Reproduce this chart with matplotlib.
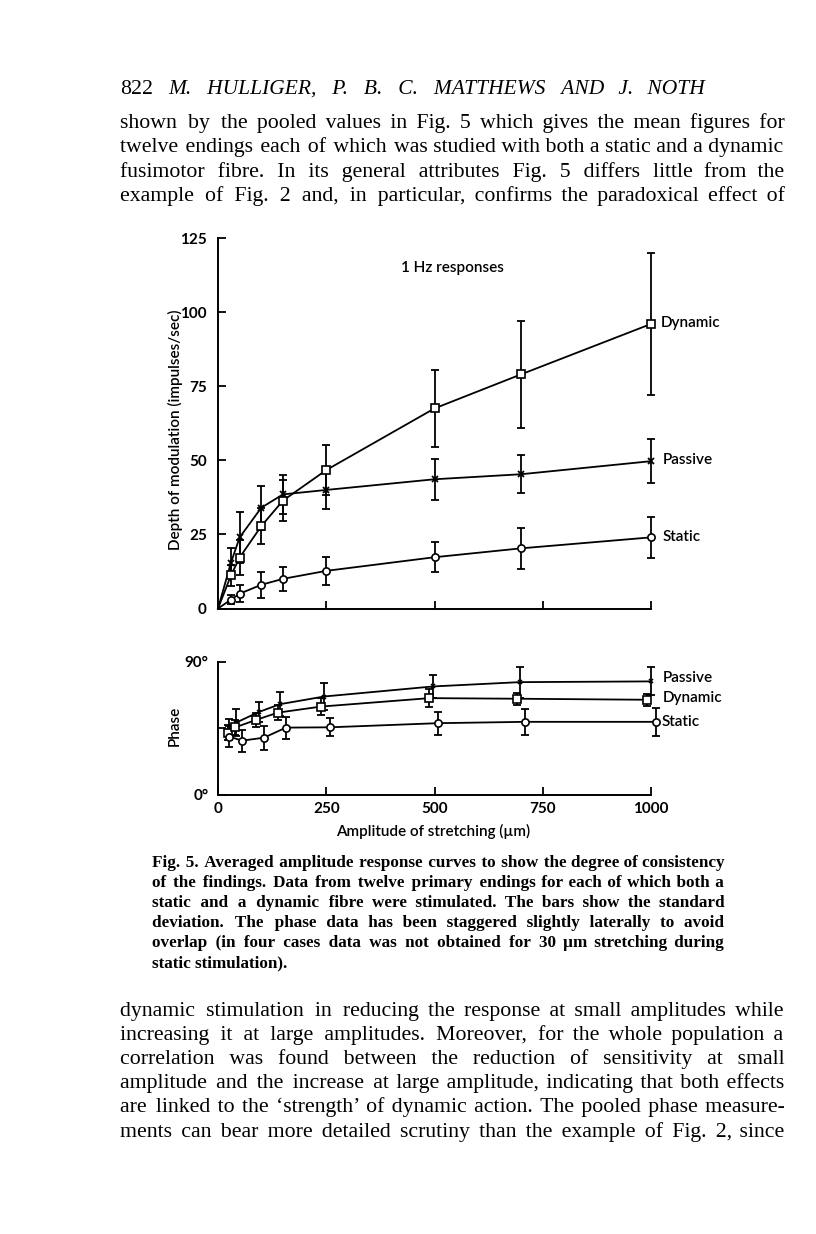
import matplotlib
matplotlib.use("Agg")
from matplotlib import pyplot as plt
from matplotlib import font_manager, ft2font

W, H = 816, 1234

# amplitude of stretching (um) and depth of modulation (impulses/sec), mean and s.d.
amp = [30, 50, 100, 150, 250, 500, 700, 1000]
dyn = [11.2, 17.2, 27.8, 36.4, 46.7, 67.5, 79.0, 96.0]
dyn_sd = [3.5, 6.0, 6.0, 7.0, 8.3, 13.0, 18.0, 24.0]
pas = [15.5, 24.0, 34.0, 38.5, 40.0, 43.6, 45.3, 49.7]
pas_sd = [5.0, 8.6, 7.4, 6.5, 6.5, 7.0, 6.5, 7.5]
sta = [3.0, 5.0, 8.0, 10.0, 12.7, 17.3, 20.3, 24.0]
sta_sd = [1.5, 2.8, 4.3, 4.0, 4.7, 5.0, 7.0, 7.0]

# phase (deg), staggered amplitudes
pas_x = [26, 42, 94, 143, 245, 497, 697, 1000]
pas_ph = [44.0, 48.9, 56.0, 61.3, 66.5, 73.3, 76.2, 76.7]
pas_ph_sd = [7.0, 9.0, 7.0, 8.0, 9.0, 8.0, 10.5, 9.5]
dyn_x = [24, 39, 88, 138, 238, 488, 690, 991]
dyn_ph = [42.0, 45.6, 50.7, 55.6, 59.7, 65.4, 65.0, 64.3]
dyn_ph_sd = [5.0, 5.0, 5.0, 5.0, 6.0, 6.0, 4.0, 4.0]
sta_x = [26, 56, 106, 157, 258, 509, 710, 1012]
sta_ph = [39.4, 36.7, 38.7, 45.5, 45.7, 48.5, 49.4, 49.4]
sta_ph_sd = [7.0, 7.5, 8.0, 7.5, 6.0, 7.7, 8.8, 9.6]

depth_ticks = [0, 25, 50, 75, 100, 125]
amp_ticks = [0, 250, 500, 750, 1000]
phase_ticks = [0, 45, 90]
phase_labels = ["0°", "", "90°"]

header_num = "822"
header = "M. HULLIGER, P. B. C. MATTHEWS AND J. NOTH"
para1 = [
    "shown by the pooled values in Fig. 5 which gives the mean figures for",
    "twelve endings each of which was studied with both a static and a dynamic",
    "fusimotor fibre. In its general attributes Fig. 5 differs little from the",
    "example of Fig. 2 and, in particular, confirms the paradoxical effect of",
]
caption = [
    "Fig. 5. Averaged amplitude response curves to show the degree of consistency",
    "of the findings. Data from twelve primary endings for each of which both a",
    "static and a dynamic fibre were stimulated. The bars show the standard",
    "deviation. The phase data has been staggered slightly laterally to avoid",
    "overlap (in four cases data was not obtained for 30 µm stretching during",
    "static stimulation).",
]
para2 = [
    "dynamic stimulation in reducing the response at small amplitudes while",
    "increasing it at large amplitudes. Moreover, for the whole population a",
    "correlation was found between the reduction of sensitivity at small",
    "amplitude and the increase at large amplitude, indicating that both effects",
    "are linked to the \u2018strength\u2019 of dynamic action. The pooled phase measure-",
    "ments can bear more detailed scrutiny than the example of Fig. 2, since",
]

SANS = ["Lato", "DejaVu Sans"]
SERIF = ["Liberation Serif", "DejaVu Serif", "DejaVu Sans"]


def has_char(family, ch):
    try:
        path = font_manager.findfont(font_manager.FontProperties(family=family),
                                     fallback_to_default=False)
        return ft2font.FT2Font(path).get_char_index(ord(ch)) != 0
    except Exception:
        return False


# narrowest spacing character available for justifying lines
HS = " "
for ch in ["\u200a", "\u2006", "\u2009", "\u2005"]:
    if any(has_char(f, ch) for f in SERIF):
        HS = ch
        break

fig = plt.figure(figsize=(W / 100, H / 100), dpi=100)
fig.patch.set_facecolor("white")
renderer = fig.canvas.get_renderer()


def text_width(s, **kw):
    t = fig.text(0, 0, s, **kw)
    w = t.get_window_extent(renderer).width
    t.remove()
    return w


def fit_size(lines, width, **kw):
    base = 10.0
    need = max(text_width(" ".join(ln.split()), fontsize=base, **kw) for ln in lines)
    return base * width / need


def put_line(text, x0, y, x1=None, **kw):
    words = text.split()
    s = " ".join(words)
    if x1 is not None and len(words) > 1:
        w0 = text_width(s, **kw)
        hw = (text_width("x" + HS * 20 + "x", **kw) - text_width("xx", **kw)) / 20
        k = max(0, int(round((x1 - x0 - w0) / hw))) if hw > 0 else 0
        n = len(words) - 1
        parts = [words[0]]
        for i, w in enumerate(words[1:]):
            extra = k // n + (1 if i < k % n else 0)
            parts.append(" " + HS * extra + w)
        s = "".join(parts)
    fig.text(x0 / W, 1 - y / H, s, ha="left", va="baseline", **kw)


def px_text(x, y, s, **kw):
    fig.text(x / W, 1 - y / H, s, **kw)


# page text
L, R = 120, 784
bsize = fit_size(para1 + para2, (R - L) * 0.985, family=SERIF)
body = dict(fontsize=bsize, family=SERIF)
hsize = fit_size([header], (705 - 168) * 0.85, family=SERIF, style="italic")
put_line(header_num, L, 94, **body)
put_line(header, 168, 94, 705, fontsize=hsize, family=SERIF, style="italic")
for i, ln in enumerate(para1):
    put_line(ln, L, 128 + i * 24.4, R, **body)
csize = fit_size(caption, (724 - 152) * 0.985, family=SERIF, weight="bold")
for i, ln in enumerate(caption):
    last = i == len(caption) - 1
    put_line(ln, 152, 867 + i * 20, None if last else 724,
             fontsize=csize, family=SERIF, weight="bold")
for i, ln in enumerate(para2):
    put_line(ln, L, 1016 + i * 24.1, R, **body)

lw = 1.3
err = dict(fmt="none", ecolor="k", elinewidth=1.3, capsize=3, capthick=1.3)


def style_axes(ax):
    for s in ["top", "right"]:
        ax.spines[s].set_visible(False)
    for s in ["left", "bottom"]:
        ax.spines[s].set_linewidth(1.4)
    ax.tick_params(direction="in", length=6, width=1.3, labelsize=11)
    for lab in ax.get_yticklabels() + ax.get_xticklabels():
        lab.set_family(SANS)
        lab.set_fontweight("bold")


# depth of modulation
ax1 = fig.add_axes([218 / W, 1 - 608.5 / H, 433 / W, (608.5 - 238) / H])
ax1.set_xlim(0, 1000)
ax1.set_ylim(0, 125)
for y, sd in [(dyn, dyn_sd), (pas, pas_sd), (sta, sta_sd)]:
    ax1.plot([0] + amp, [0] + y, "k-", lw=lw)
    ax1.errorbar(amp, y, yerr=sd, **err)
ax1.plot(amp, dyn, ls="none", marker="s", ms=5.2, mfc="white", mec="k", mew=1.2, zorder=5)
ax1.plot(amp, pas, ls="none", marker="x", ms=4, mec="k", mew=1.3, zorder=5)
ax1.plot(amp, sta, ls="none", marker="o", ms=5.2, mfc="white", mec="k", mew=1.2, zorder=5)
ax1.set_yticks(depth_ticks)
ax1.set_xticks(amp_ticks[1:])
ax1.set_xticklabels([])
style_axes(ax1)
ax1.tick_params(axis="y", pad=8)

# phase
ax2 = fig.add_axes([218 / W, 1 - 795 / H, 433 / W, (795 - 661.7) / H])
ax2.set_xlim(0, 1000)
ax2.set_ylim(0, 90)
for x, y, sd, mk in [(pas_x, pas_ph, pas_ph_sd, "x"),
                     (dyn_x, dyn_ph, dyn_ph_sd, "s"),
                     (sta_x, sta_ph, sta_ph_sd, "o")]:
    ax2.plot(x, y, "k-", lw=lw)
    ax2.errorbar(x, y, yerr=sd, **err)
    if mk == "x":
        ax2.plot(x, y, ls="none", marker="x", ms=3, mec="k", mew=1.1, zorder=5)
    else:
        ax2.plot(x, y, ls="none", marker=mk, ms=5.2, mfc="white", mec="k", mew=1.2, zorder=5)
ax2.set_yticks(phase_ticks)
ax2.set_yticklabels(phase_labels)
ax2.set_xticks(amp_ticks)
style_axes(ax2)
ax2.tick_params(axis="y", pad=7)
ax2.tick_params(axis="x", pad=5)

for ax in (ax1, ax2):
    for ch in ax.get_children():
        if hasattr(ch, "set_clip_on"):
            ch.set_clip_on(False)

lab = dict(family=SANS, fontsize=11, fontweight="semibold")
px_text(452, 268, "1 Hz responses", ha="center", va="center", **lab)
px_text(661, 323, "Dynamic", ha="left", va="center", **lab)
px_text(663, 460, "Passive", ha="left", va="center", **lab)
px_text(663, 537, "Static", ha="left", va="center", **lab)
px_text(663, 678, "Passive", ha="left", va="center", **lab)
px_text(663, 698, "Dynamic", ha="left", va="center", **lab)
px_text(662, 722, "Static", ha="left", va="center", **lab)
px_text(175, 430, "Depth of modulation (impulses/sec)", rotation=90,
        ha="center", va="center", **lab)
px_text(175, 726, "Phase", rotation=90, ha="center", va="center", **lab)
px_text(433, 831, "Amplitude of stretching (µm)", ha="center", va="center", **lab)

fig.savefig("out.png", dpi=100)
